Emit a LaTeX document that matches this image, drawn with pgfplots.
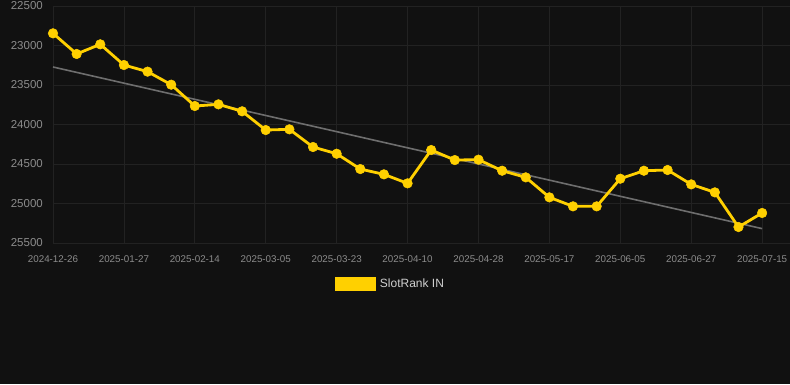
\documentclass[border=0pt]{standalone}
\usepackage{pgfplots}
\pgfplotsset{compat=1.18}
\usepackage{fontspec}
\setmainfont{Liberation Sans}
\definecolor{bg}{HTML}{111111}
\definecolor{gridc}{HTML}{222222}
\definecolor{yel}{HTML}{FFD000}
\definecolor{trend}{HTML}{6E6E6E}
\definecolor{tickc}{HTML}{8C8C8C}
\definecolor{legc}{HTML}{D0D0D0}
\begin{document}
\begin{tikzpicture}[x=1bp,y=1bp]
\fill[bg] (0,0) rectangle (790,384);
\begin{axis}[
  at={(53bp,141bp)}, anchor=south west, scale only axis,
  width=737bp, height=237bp,
  xmin=0, xmax=31.18, ymin=22500, ymax=25500, y dir=reverse,
  axis line style={draw=none}, major tick length=0pt, tick style={draw=none},
  grid=major, grid style={gridc, line width=0.8bp},
  xtick={0,3,...,30},
  xticklabels={2024-12-26,2025-01-27,2025-02-14,2025-03-05,2025-03-23,2025-04-10,2025-04-28,2025-05-17,2025-06-05,2025-06-27,2025-07-15},
  ytick={22500,23000,...,25500},
  scaled y ticks=false,
  /pgf/number format/assume math mode=true,
  /pgf/number format/1000 sep={},
  yticklabel style={anchor=east, inner sep=0pt, xshift=-10bp, text=tickc, font=\fontsize{11.5bp}{13bp}\selectfont},
  xticklabel style={anchor=north, inner sep=0pt, yshift=-12bp, text=tickc, font=\fontsize{9.8bp}{11bp}\selectfont},
  clip=false,
  legend style={at={(0.3826,-0.173)}, anchor=west, draw=none, fill=none, text=legc, font=\fontsize{12bp}{14bp}\selectfont, inner sep=0pt},
  legend image code/.code={\fill[yel] (0bp,-5.5bp) rectangle (38bp,5.5bp);},
]
\addplot[trend, line width=1.6bp, forget plot] coordinates {(0,23272) (30,25318)};
\addplot[yel, line width=2.8bp, mark=*, mark size=4.8bp, mark options={fill=yel, draw=yel, line width=0.5bp}] coordinates {
(0,22846) (1,23107) (2,22985) (3,23247) (4,23331) (5,23496) (6,23766) (7,23745) (8,23833) (9,24070)
(10,24061) (11,24285) (12,24370) (13,24564) (14,24631) (15,24745) (16,24323) (17,24450) (18,24445) (19,24585)
(20,24669) (21,24922) (22,25036) (23,25036) (24,24686) (25,24585) (26,24576) (27,24758) (28,24859) (29,25298) (30,25120)
};
\addlegendentry{\hspace{2bp}SlotRank IN}
\end{axis}
\pgfresetboundingbox
\useasboundingbox (0,0) rectangle (790,384);
\end{tikzpicture}
\end{document}
